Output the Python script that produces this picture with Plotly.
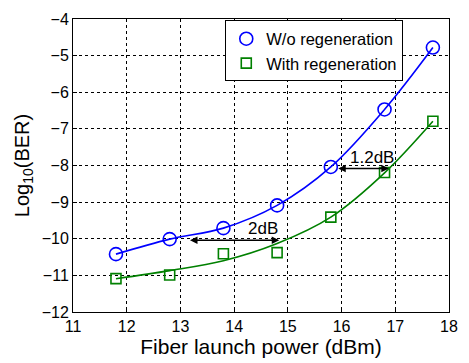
import plotly.graph_objects as go

power = [11.8, 12.8, 13.8, 14.8, 15.8, 16.8, 17.7]
ber_wo = [-10.42, -10.01, -9.71, -9.09, -8.04, -6.47, -4.78]
ber_with = [-11.09, -10.99, -10.41, -10.38, -9.41, -8.19, -6.79]
fit_with = [-11.09, -10.87, -10.6, -10.13, -9.41, -8.2, -6.79]

x_ticks = [11, 12, 13, 14, 15, 16, 17, 18]
y_ticks = [-12, -11, -10, -9, -8, -7, -6, -5, -4]

blue = "#0000FF"
green = "#008000"
font = "Liberation Sans, Arial, sans-serif"

fig = go.Figure()
fig.add_trace(go.Scatter(x=power, y=ber_wo, mode="lines", line=dict(color=blue, width=1.6, shape="spline"),
                         showlegend=False, hoverinfo="skip"))
fig.add_trace(go.Scatter(x=power, y=fit_with, mode="lines", line=dict(color=green, width=1.6, shape="spline"),
                         showlegend=False, hoverinfo="skip"))
fig.add_trace(go.Scatter(x=power, y=ber_wo, mode="markers", name="W/o regeneration",
                         marker=dict(symbol="circle-open", size=13, color=blue, line=dict(width=1.6, color=blue))))
fig.add_trace(go.Scatter(x=power, y=ber_with, mode="markers", name="With regeneration",
                         marker=dict(symbol="square-open", size=10, color=green, line=dict(width=1.6, color=green))))

# double-headed arrows
arrows = [(13.15, 14.84, -10.04), (15.91, 16.88, -8.08)]
for x0, x1, yy in arrows:
    fig.add_annotation(x=x1, y=yy, ax=x0, ay=yy, xref="x", yref="y", axref="x", ayref="y",
                       text="", showarrow=True, arrowhead=2, arrowside="end+start", arrowsize=1,
                       arrowwidth=1.5, arrowcolor="black")
fig.add_annotation(x=14.53, y=-9.73, text="2dB", showarrow=False, font=dict(family=font, size=17, color="black"))
fig.add_annotation(x=16.56, y=-7.78, text="1.2dB", showarrow=False, font=dict(family=font, size=17, color="black"))

axis_common = dict(showline=True, linecolor="black", linewidth=1, mirror=True,
                   showgrid=True, gridcolor="black", griddash="dot", gridwidth=1,
                   ticks="inside", ticklen=4, tickcolor="black", zeroline=False,
                   tickfont=dict(family=font, size=16, color="black"))

fig.update_xaxes(range=[11, 18], tickvals=x_ticks,
                 title=dict(text="Fiber launch power (dBm)", font=dict(family=font, size=21, color="black"), standoff=2),
                 **axis_common)
fig.update_yaxes(range=[-12, -4], tickvals=y_ticks,
                 title=dict(text="Log<sub>10</sub>(BER)", font=dict(family=font, size=20, color="black"), standoff=6),
                 **axis_common)

fig.update_layout(width=469, height=363, margin=dict(l=73, r=11, t=12, b=51),
                  plot_bgcolor="white", paper_bgcolor="white",
                  legend=dict(x=0.405, y=0.995, xanchor="left", yanchor="top", bgcolor="white",
                              bordercolor="black", borderwidth=1, font=dict(family=font, size=16.5, color="black"),
                              tracegroupgap=0, itemwidth=30))

fig.write_html("out.html", config={"displayModeBar": False},
               post_script="document.body.style.margin='0';document.body.style.overflow='hidden';")
